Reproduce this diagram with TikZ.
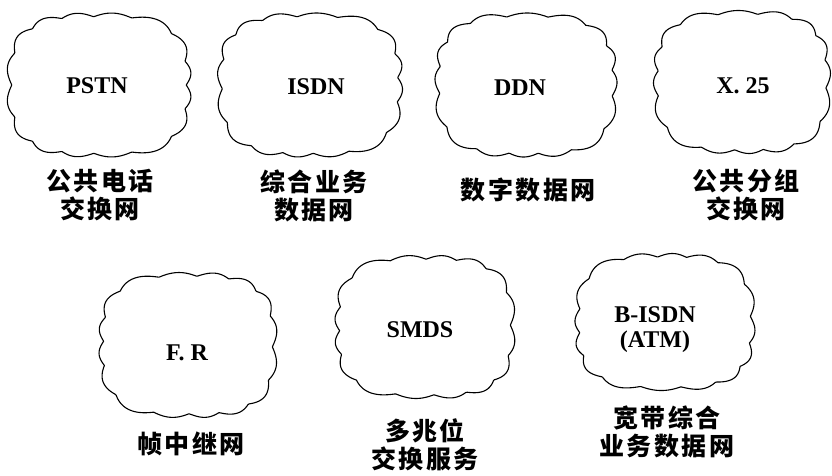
\documentclass[tikz,border=0pt]{standalone}
\usepackage{fontspec}
\setmainfont{Liberation Serif}
\newfontfamily\cjk[LetterSpace=10]{Noto Sans CJK SC}
\tikzset{declare function={
  sq(\t)=exp(-ln(abs(cos(\t))^3+abs(sin(\t))^3)/3);
  bp(\t,\p)=(1+0.055*abs(sin(8*\t+\p+28*sin(3*\t+\p))))/1.055;}}
% outline of a cloud: centre x, centre y, half width, half height, phase
\newcommand\netcloud[5]{%
  \draw[netline] plot[domain=0:360,samples=420]
    ({#1+#3*cos(\x)*sq(\x)*bp(\x,#5)},{#2+#4*sin(\x)*sq(\x)*bp(\x,#5)}) -- cycle;}
\begin{document}
\begin{tikzpicture}[x=1pt,y=-1pt,
  netline/.style={line width=1.1pt, line join=round},
  net/.style={inner sep=0pt, align=center,
    font={\bfseries\fontsize{24}{25}\selectfont}},
  netlabel/.style={font={\cjk\bfseries\fontsize{25}{28}\selectfont}, align=center, inner sep=0pt}]
\useasboundingbox (0,0) rectangle (832,475);
\netcloud{99}{85}{92}{72}{0}
\netcloud{310}{85}{92.5}{72}{40}
\netcloud{526}{85}{91}{72}{80}
\netcloud{742}{82}{88.5}{71.5}{120}
\netcloud{188}{345}{89}{72.5}{160}
\netcloud{425}{327}{90}{71.5}{200}
\netcloud{665}{322}{90}{68.5}{240}
\node[net] (pstn) at (97,86) {PSTN};
\node[net] (isdn) at (316,87) {ISDN};
\node[net] (ddn) at (520,88) {DDN};
\node[net] (x25) at (743,86) {X. 25};
\node[net] (fr) at (187,353) {F. R};
\node[net] (smds) at (420,330) {SMDS};
\node[net] (bisdn) at (655,330) {B-ISDN\\(ATM)};
\node[netlabel] (lpstn) at (100,195) {公共电话\\交换网};
\node[netlabel] (lisdn) at (314,196) {综合业务\\数据网};
\node[netlabel] (lddn) at (528,190) {数字数据网};
\node[netlabel] (lx25) at (746,195) {公共分组\\交换网};
\node[netlabel] (lfr) at (191,444) {帧中继网};
\node[netlabel] (lsmds) at (425,445) {多兆位\\交换服务};
\node[netlabel] (lbisdn) at (667,432) {宽带综合\\业务数据网};
\end{tikzpicture}
\end{document}
